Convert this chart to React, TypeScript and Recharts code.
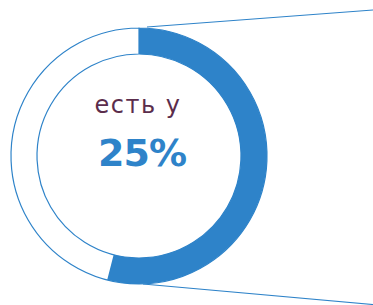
import { PieChart, Pie, Cell, Customized } from 'recharts'

const BLUE = '#2e83c9'
const PLUM = '#5b2d4c'

const segments = ['есть', 'нет']
const shares = [54, 46]
const ring = [{ name: 'all', value: 100 }]

const caption = 'есть у'
const headline = '25%'

const data = segments.map((name, i) => ({ name, value: shares[i] }))

const CX = 139
const CY = 156

function Callout() {
  return (
    <g>
      <line x1={147} y1={27} x2={373} y2={10} stroke={BLUE} strokeWidth={1.2} />
      <line x1={143} y1={284} x2={373} y2={304.5} stroke={BLUE} strokeWidth={1.2} />
    </g>
  )
}

function Label() {
  return (
    <g fontFamily="'DejaVu Sans', sans-serif" textAnchor="middle">
      <text x={138} y={113} fontSize={24} letterSpacing={1.5} fill={PLUM}>
        {caption}
      </text>
      <text x={142} y={166} fontSize={38} fontWeight={700} letterSpacing={-1} fill={BLUE}>
        {headline}
      </text>
    </g>
  )
}

export default function App() {
  return (
    <div style={{ position: 'absolute', left: 0, top: 0, background: '#fff' }}>
      <PieChart width={373} height={305} margin={{ top: 0, right: 0, bottom: 0, left: 0 }}>
        <Customized component={Callout} />
        <Pie
          data={ring}
          dataKey="value"
          cx={CX}
          cy={CY}
          innerRadius={102}
          outerRadius={128}
          startAngle={90}
          endAngle={-270}
          fill="#fff"
          stroke={BLUE}
          strokeWidth={1.2}
          isAnimationActive={false}
        />
        <Pie
          data={data}
          dataKey="value"
          cx={CX}
          cy={CY}
          innerRadius={102}
          outerRadius={128}
          startAngle={90}
          endAngle={-270}
          stroke="none"
          isAnimationActive={false}
        >
          {data.map((d, i) => (
            <Cell key={d.name} fill={i === 0 ? BLUE : 'none'} />
          ))}
        </Pie>
        <Customized component={Label} />
      </PieChart>
    </div>
  )
}
